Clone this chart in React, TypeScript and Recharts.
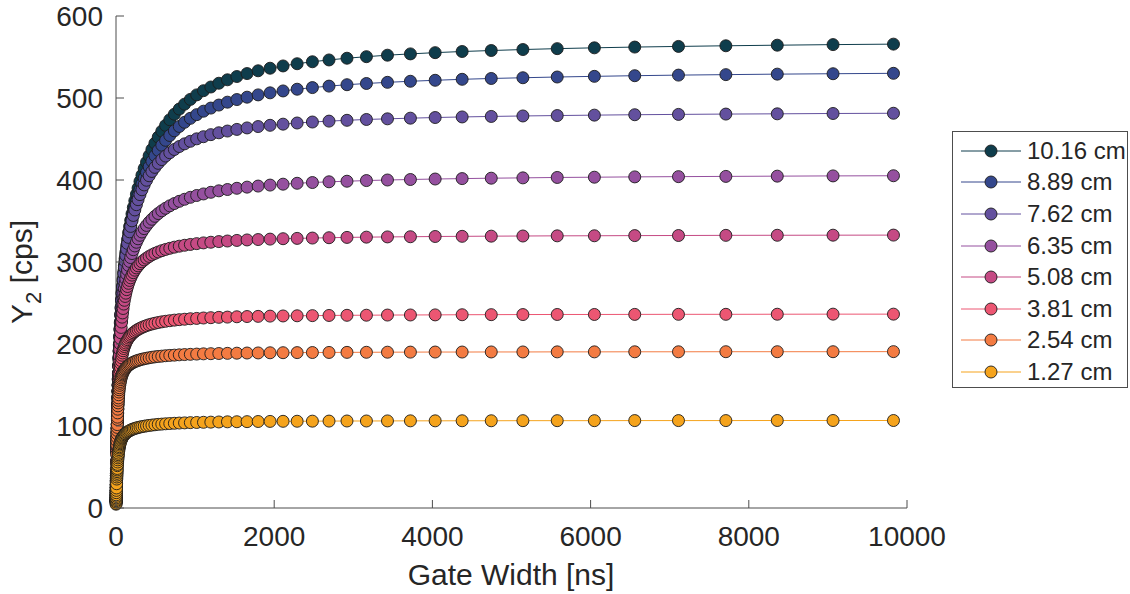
import React from 'react';
import { LineChart, Line, XAxis, YAxis, Legend } from 'recharts';

// gate widths in ns, log spaced
const gateWidth = [
  1, 1.2, 1.6, 2, 2.4, 2.8, 3.3, 3.8, 4.5, 5.3, 6.2, 7.9,
  10, 11, 12, 13, 14, 15, 16, 18, 19, 21,
  23, 25, 27, 29, 31, 34, 37, 40, 43, 47,
  51, 55, 60, 65, 71, 77, 83, 90, 98, 106,
  115, 124, 135, 146, 159, 172, 186, 202, 219, 238,
  258, 279, 303, 328, 356, 386, 419, 454, 492, 534,
  579, 627, 680, 738, 800, 867, 940, 1020, 1106, 1199,
  1300, 1409, 1528, 1657, 1797, 1948, 2112, 2290, 2483, 2693,
  2920, 3166, 3432, 3722, 4035, 4376, 4744, 5144, 5578, 6048,
  6558, 7111, 7710, 8360, 9065, 9829,
];

// Y2 [cps] per detector size
const y1016 = [
  7.9, 9.5, 12.6, 15.7, 18.7, 21.7, 25.3, 28.9, 33.9, 39.5, 45.6, 56.7,
  69.5, 75.4, 81.1, 86.7, 92.1, 97.3, 102.4, 112.2, 116.9, 125.9,
  134.4, 142.5, 150.2, 157.5, 164.4, 174.2, 183.4, 191.8, 199.8, 209.6,
  218.6, 226.9, 236.4, 245.1, 254.6, 263.2, 271.1, 279.4, 288.1, 296.0,
  304.1, 311.5, 319.8, 327.4, 335.7, 343.2, 350.8, 358.7, 366.5, 374.6,
  382.5, 390.1, 398.2, 405.9, 413.9, 421.7, 429.6, 437.2, 444.8, 452.3,
  459.6, 466.6, 473.5, 480.2, 486.5, 492.5, 498.3, 503.8, 508.9, 513.4,
  518.0, 522.2, 526.2, 529.8, 533.2, 536.3, 539.1, 541.8, 544.2, 546.4,
  548.5, 550.4, 552.2, 553.8, 555.3, 556.7, 557.9, 559.1, 560.2, 561.2,
  562.1, 562.9, 563.7, 564.4, 565.1, 565.7,
];
const y889 = [
  7.9, 9.5, 12.6, 15.6, 18.6, 21.6, 25.2, 28.8, 33.8, 39.3, 45.4, 56.4,
  69.2, 75.1, 80.7, 86.2, 91.6, 96.8, 101.9, 111.6, 116.2, 125.2,
  133.7, 141.7, 149.3, 156.5, 163.4, 173.1, 182.1, 190.5, 198.3, 208.0,
  216.9, 225.1, 234.4, 242.9, 252.2, 260.6, 268.3, 276.4, 284.8, 292.4,
  300.2, 307.3, 315.2, 322.5, 330.3, 337.4, 344.5, 351.9, 359.1, 366.6,
  373.8, 380.8, 388.1, 395.1, 402.2, 409.2, 416.2, 422.9, 429.6, 436.1,
  442.4, 448.4, 454.3, 460.0, 465.3, 470.4, 475.2, 479.7, 483.9, 487.7,
  491.4, 494.9, 498.1, 501.0, 503.8, 506.3, 508.6, 510.7, 512.7, 514.5,
  516.2, 517.7, 519.1, 520.4, 521.6, 522.8, 523.8, 524.7, 525.6, 526.4,
  527.2, 527.9, 528.5, 529.1, 529.6, 530.1,
];
const y762 = [
  8.0, 9.5, 12.6, 15.7, 18.7, 21.7, 25.4, 29.0, 33.9, 39.5, 45.6, 56.7,
  69.6, 75.5, 81.2, 86.7, 92.1, 97.4, 102.5, 112.2, 116.9, 125.9,
  134.4, 142.5, 150.2, 157.4, 164.3, 174.1, 183.2, 191.6, 199.5, 209.2,
  218.1, 226.3, 235.7, 244.2, 253.5, 261.9, 269.5, 277.6, 285.9, 293.4,
  301.0, 308.0, 315.7, 322.6, 330.0, 336.8, 343.4, 350.2, 356.8, 363.5,
  369.9, 376.0, 382.2, 388.1, 394.0, 399.7, 405.2, 410.4, 415.4, 420.3,
  424.9, 429.2, 433.3, 437.2, 440.8, 444.1, 447.2, 450.2, 452.8, 455.3,
  457.6, 459.7, 461.7, 463.5, 465.2, 466.7, 468.1, 469.5, 470.7, 471.8,
  472.8, 473.8, 474.6, 475.4, 476.2, 476.9, 477.5, 478.1, 478.6, 479.1,
  479.6, 480.0, 480.4, 480.7, 481.1, 481.4,
];
const y635 = [
  7.6, 9.1, 12.1, 15.1, 18.0, 20.8, 24.3, 27.8, 32.6, 37.9, 43.7, 54.3,
  66.6, 72.2, 77.6, 82.9, 87.9, 92.9, 97.7, 106.9, 111.3, 119.7,
  127.7, 135.2, 142.4, 149.1, 155.5, 164.5, 172.7, 180.4, 187.5, 196.3,
  204.2, 211.5, 219.7, 227.1, 235.0, 242.1, 248.5, 255.1, 261.9, 267.9,
  273.9, 279.2, 285.1, 290.3, 295.8, 300.7, 305.4, 310.3, 315.0, 319.6,
  324.1, 328.3, 332.6, 336.6, 340.7, 344.6, 348.5, 352.1, 355.7, 359.1,
  362.4, 365.5, 368.5, 371.3, 374.0, 376.5, 378.9, 381.1, 383.0, 385.0,
  386.8, 388.4, 389.9, 391.3, 392.6, 393.8, 394.9, 396.0, 396.9, 397.8,
  398.5, 399.3, 400.0, 400.6, 401.2, 401.7, 402.2, 402.6, 403.1, 403.4,
  403.8, 404.1, 404.4, 404.7, 405.0, 405.2,
];
const y508 = [
  8.1, 9.6, 12.8, 15.8, 18.9, 21.8, 25.5, 29.1, 34.1, 39.6, 45.6, 56.5,
  69.0, 74.6, 80.1, 85.3, 90.4, 95.4, 100.1, 109.2, 113.5, 121.8,
  129.5, 136.7, 143.5, 149.9, 156.0, 164.3, 172.0, 179.0, 185.5, 193.3,
  200.4, 206.7, 213.8, 220.2, 226.8, 232.7, 237.9, 243.3, 248.7, 253.3,
  258.0, 262.0, 266.3, 270.1, 274.0, 277.5, 280.7, 284.0, 287.0, 290.0,
  292.8, 295.3, 297.9, 300.2, 302.5, 304.7, 306.8, 308.7, 310.5, 312.2,
  313.8, 315.3, 316.7, 318.1, 319.3, 320.4, 321.4, 322.4, 323.3, 324.1,
  324.9, 325.6, 326.3, 326.9, 327.4, 327.9, 328.4, 328.8, 329.2, 329.6,
  330.0, 330.3, 330.6, 330.8, 331.1, 331.3, 331.5, 331.7, 331.9, 332.0,
  332.2, 332.3, 332.5, 332.6, 332.7, 332.8,
];
const y381 = [
  8.8, 10.5, 13.8, 17.1, 20.3, 23.5, 27.3, 31.0, 36.0, 41.7, 47.6, 58.1,
  69.8, 75.0, 80.0, 84.6, 89.1, 93.3, 97.4, 104.9, 108.4, 115.0,
  120.9, 126.4, 131.4, 136.0, 140.2, 145.9, 151.0, 155.5, 159.5, 164.3,
  168.5, 172.1, 176.2, 179.6, 183.2, 186.3, 189.1, 191.8, 194.5, 196.9,
  199.2, 201.2, 203.4, 205.3, 207.2, 208.9, 210.5, 212.1, 213.7, 215.1,
  216.5, 217.8, 219.0, 220.2, 221.3, 222.4, 223.5, 224.4, 225.3, 226.2,
  227.0, 227.7, 228.4, 229.1, 229.7, 230.2, 230.8, 231.2, 231.7, 232.1,
  232.5, 232.8, 233.2, 233.5, 233.7, 234.0, 234.2, 234.4, 234.6, 234.8,
  235.0, 235.1, 235.3, 235.4, 235.5, 235.7, 235.8, 235.9, 236.0, 236.0,
  236.1, 236.2, 236.2, 236.3, 236.4, 236.4,
];
const y254 = [
  10.7, 12.8, 16.7, 20.6, 24.3, 28.0, 32.3, 36.5, 42.1, 48.1, 54.4, 65.2,
  76.8, 81.7, 86.3, 90.6, 94.6, 98.3, 101.7, 108.0, 110.8, 116.0,
  120.5, 124.6, 128.2, 131.4, 134.3, 138.1, 141.4, 144.2, 146.7, 149.6,
  152.1, 154.3, 156.6, 158.6, 160.6, 162.3, 163.9, 165.4, 166.9, 168.2,
  169.5, 170.7, 171.9, 172.9, 174.0, 175.0, 175.9, 176.8, 177.7, 178.5,
  179.3, 180.0, 180.7, 181.4, 182.0, 182.6, 183.2, 183.8, 184.3, 184.8,
  185.2, 185.7, 186.1, 186.4, 186.8, 187.1, 187.4, 187.7, 188.0, 188.2,
  188.4, 188.6, 188.8, 189.0, 189.1, 189.3, 189.4, 189.5, 189.6, 189.7,
  189.8, 189.9, 190.0, 190.1, 190.2, 190.2, 190.3, 190.3, 190.4, 190.4,
  190.5, 190.5, 190.6, 190.6, 190.6, 190.7,
];
const y127 = [
  4.6, 5.5, 7.3, 9.0, 10.6, 12.3, 14.2, 16.1, 18.7, 21.5, 24.4, 29.6,
  35.3, 37.8, 40.1, 42.3, 44.4, 46.4, 48.2, 51.6, 53.2, 56.1,
  58.7, 61.1, 63.2, 65.1, 66.9, 69.3, 71.3, 73.2, 74.8, 76.7,
  78.3, 79.8, 81.3, 82.7, 84.1, 85.3, 86.3, 87.4, 88.5, 89.4,
  90.4, 91.2, 92.1, 92.8, 93.6, 94.3, 95.0, 95.7, 96.4, 97.0,
  97.6, 98.1, 98.7, 99.2, 99.7, 100.2, 100.7, 101.1, 101.5, 102.0,
  102.3, 102.7, 103.0, 103.3, 103.6, 103.8, 104.1, 104.3, 104.5, 104.7,
  104.9, 105.1, 105.2, 105.3, 105.5, 105.6, 105.7, 105.8, 105.9, 106.0,
  106.1, 106.1, 106.2, 106.3, 106.3, 106.4, 106.4, 106.5, 106.5, 106.5,
  106.6, 106.6, 106.6, 106.7, 106.7, 106.7,
];

const seriesNames = ['10.16 cm', '8.89 cm', '7.62 cm', '6.35 cm', '5.08 cm', '3.81 cm', '2.54 cm', '1.27 cm'];
const seriesValues = [y1016, y889, y762, y635, y508, y381, y254, y127];
const seriesColors = ['#0f3d4c', '#34478c', '#63509e', '#95509f', '#c54a84', '#ec5672', '#f37b42', '#f5a31c'];

const xTicks = [0, 2000, 4000, 6000, 8000, 10000];
const yTicks = [0, 100, 200, 300, 400, 500, 600];

const rows = gateWidth.map((t, i) => {
  const row: Record<string, number> = { t };
  seriesValues.forEach((vals, s) => {
    row[`s${s}`] = vals[i];
  });
  return row;
});

const FONT = '"Liberation Sans", Arial, Helvetica, sans-serif';
const AXIS = '#4d4d4d';
const TEXT = '#262626';
const EDGE = '#1c1c1c';

// MATLAB style: tick marks point into the plot
const XTick = ({ x, y, payload }: any) => (
  <g>
    <line x1={x} y1={y} x2={x} y2={y - 8} stroke={AXIS} />
    <text x={x} y={y + 38} textAnchor="middle" fontSize={28} fill={TEXT} fontFamily={FONT}>
      {payload.value}
    </text>
  </g>
);

const YTick = ({ x, y, payload }: any) => (
  <g>
    <line x1={x} y1={y} x2={x + 8} y2={y} stroke={AXIS} />
    <text x={x - 13} y={y} dy="0.36em" textAnchor="end" fontSize={28} fill={TEXT} fontFamily={FONT}>
      {payload.value}
    </text>
  </g>
);

const renderLegend = () => (
  <div
    style={{
      width: 176,
      height: 257,
      boxSizing: 'border-box',
      border: `1px solid ${AXIS}`,
      background: '#fff',
      paddingTop: 3,
      fontFamily: FONT,
    }}
  >
    {seriesNames.map((name, i) => (
      <div key={name} style={{ display: 'flex', alignItems: 'center', height: 31.6 }}>
        <svg width={74} height={20} style={{ flex: 'none' }}>
          <line x1={8} x2={68} y1={10} y2={10} stroke={seriesColors[i]} strokeWidth={1} />
          <circle cx={38} cy={10} r={6} fill={seriesColors[i]} stroke={EDGE} strokeWidth={0.9} />
        </svg>
        <span style={{ fontSize: 24, color: TEXT, whiteSpace: 'nowrap' }}>{name}</span>
      </div>
    ))}
  </div>
);

export default function App() {
  return (
    <div style={{ position: 'relative', width: 1130, height: 594, background: '#fff' }}>
      <style>{'body{margin:0;background:#fff}'}</style>
      <LineChart
        width={1130}
        height={594}
        data={rows}
        margin={{ top: 16, right: 223, bottom: 0, left: 0 }}
      >
        <XAxis
          type="number"
          dataKey="t"
          domain={[0, 10000]}
          ticks={xTicks}
          height={86}
          tickSize={0}
          tickMargin={0}
          tickLine={false}
          axisLine={{ stroke: AXIS }}
          tick={<XTick />}
        />
        <YAxis
          type="number"
          domain={[0, 600]}
          ticks={yTicks}
          width={116}
          tickSize={0}
          tickMargin={0}
          tickLine={false}
          axisLine={{ stroke: AXIS }}
          tick={<YTick />}
        />
        {seriesNames.map((name, s) => (
          <Line
            key={name}
            name={name}
            type="linear"
            dataKey={`s${s}`}
            stroke={seriesColors[s]}
            strokeWidth={1}
            dot={{ r: 6, fill: seriesColors[s], stroke: EDGE, strokeWidth: 0.9 }}
            activeDot={false}
            isAnimationActive={false}
          />
        ))}
        <Legend
          layout="vertical"
          align="center"
          verticalAlign="middle"
          content={renderLegend}
          wrapperStyle={{ left: 952, top: 131, width: 176, height: 257 }}
        />
      </LineChart>
      <svg
        width={1130}
        height={594}
        style={{ position: 'absolute', left: 0, top: 0, pointerEvents: 'none' }}
        fontFamily={FONT}
        fill={TEXT}
      >
        <text x={511} y={585} textAnchor="middle" fontSize={30}>
          Gate Width [ns]
        </text>
        <text x={32} y={272} textAnchor="middle" fontSize={30} transform="rotate(-90 32 272)">
          Y<tspan fontSize={22} dy={9}>2</tspan>
          <tspan dy={-9}> [cps]</tspan>
        </text>
      </svg>
    </div>
  );
}
